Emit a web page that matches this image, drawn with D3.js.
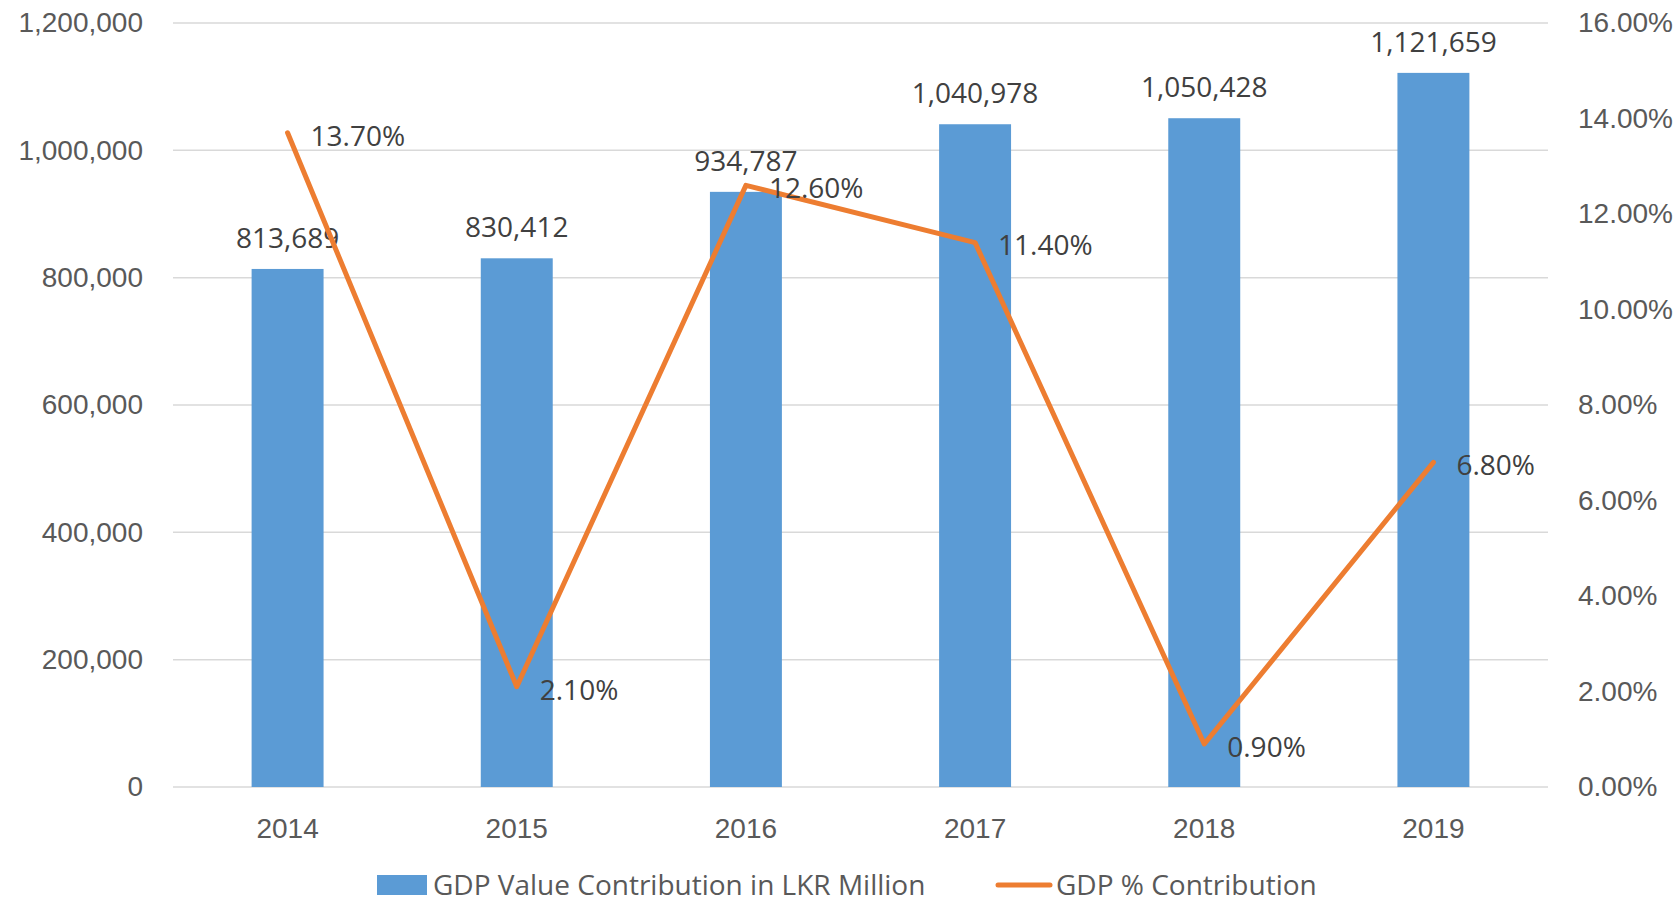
<!DOCTYPE html>
<html>
<head>
<meta charset="utf-8">
<script src="https://cdn.jsdelivr.net/npm/d3@7"></script>
<style>
  body { margin: 0; background: #fff; }
  svg { font-family: "Open Sans", "Noto Sans", sans-serif; }
</style>
</head>
<body>
<div id="chart"></div>
<script>
// Data
const years = ["2014", "2015", "2016", "2017", "2018", "2019"];
const gdpValue = [813689, 830412, 934787, 1040978, 1050428, 1121659];
const gdpPct = [13.7, 2.1, 12.6, 11.4, 0.9, 6.8];
const leftTicks = [0, 200000, 400000, 600000, 800000, 1000000, 1200000];
const rightTicks = [0, 2, 4, 6, 8, 10, 12, 14, 16];
const seriesNames = ["GDP Value Contribution in LKR Million", "GDP % Contribution"];

const width = 1680, height = 903;
const margin = { top: 23, right: 132, bottom: 116, left: 173 };
const w = width - margin.left - margin.right;
const h = height - margin.top - margin.bottom;

const svg = d3.select("#chart")
    .append("svg")
    .attr("width", width)
    .attr("height", height)
    .append("g")
    .attr("transform", "translate(" + margin.left + "," + margin.top + ")");

// Scales
const x = d3.scaleBand()
    .domain(years)
    .range([0, w])
    .paddingInner(0.686)
    .paddingOuter(0.343);

const yLeft = d3.scaleLinear().domain([0, 1200000]).range([h, 0]);
const yRight = d3.scaleLinear().domain([0, 16]).range([h, 0]);

const axisColor = "#595959";
const labelColor = "#404040";
const fmt = d3.format(",");

// Gridlines
svg.append("g")
    .selectAll("line")
    .data(leftTicks)
    .join("line")
    .attr("x1", 0)
    .attr("x2", w)
    .attr("y1", d => yLeft(d))
    .attr("y2", d => yLeft(d))
    .attr("stroke", "#d9d9d9")
    .attr("stroke-width", 1.5);

// Left axis
const leftAxis = svg.append("g")
    .attr("transform", "translate(-30,0)")
    .call(d3.axisLeft(yLeft).tickValues(leftTicks).tickFormat(fmt).tickSize(0));
leftAxis.select(".domain").remove();
leftAxis.selectAll("text")
    .attr("x", 0)
    .attr("fill", axisColor)
    .style("font-size", "28px");

// Right axis
const rightAxis = svg.append("g")
    .attr("transform", "translate(" + (w + 30) + ",0)")
    .call(d3.axisRight(yRight).tickValues(rightTicks).tickFormat(d => d.toFixed(2) + "%").tickSize(0));
rightAxis.select(".domain").remove();
rightAxis.selectAll("text")
    .attr("x", 0)
    .attr("fill", axisColor)
    .style("font-size", "28px");

// Bottom axis
const bottomAxis = svg.append("g")
    .attr("transform", "translate(0," + h + ")")
    .call(d3.axisBottom(x).tickSize(0));
bottomAxis.select(".domain").remove();
bottomAxis.selectAll("text")
    .attr("y", 41)
    .attr("dy", "0.35em")
    .attr("fill", axisColor)
    .style("font-size", "28px");

// Bars
svg.selectAll("rect.bar")
    .data(years.map((d, i) => [d, gdpValue[i]]))
    .join("rect")
    .classed("bar", true)
    .attr("x", d => x(d[0]))
    .attr("y", d => yLeft(d[1]))
    .attr("width", x.bandwidth())
    .attr("height", d => h - yLeft(d[1]))
    .attr("fill", "#5b9bd5");

// Bar labels
svg.selectAll("text.bar-label")
    .data(years.map((d, i) => [d, gdpValue[i]]))
    .join("text")
    .classed("bar-label", true)
    .attr("x", d => x(d[0]) + x.bandwidth() / 2)
    .attr("y", d => yLeft(d[1]) - 21)
    .attr("text-anchor", "middle")
    .attr("fill", labelColor)
    .style("font-size", "28px")
    .text(d => fmt(d[1]));

// Line
const pts = years.map((d, i) => [x(d) + x.bandwidth() / 2, yRight(gdpPct[i])]);
svg.append("path")
    .datum(pts)
    .attr("d", d3.line())
    .attr("fill", "none")
    .attr("stroke", "#ed7d31")
    .attr("stroke-width", 5)
    .attr("stroke-linejoin", "round")
    .attr("stroke-linecap", "round");

// Line labels
svg.selectAll("text.pct-label")
    .data(years.map((d, i) => [d, gdpPct[i]]))
    .join("text")
    .classed("pct-label", true)
    .attr("x", d => x(d[0]) + x.bandwidth() / 2 + 23)
    .attr("y", d => yRight(d[1]) + 3)
    .attr("dy", "0.35em")
    .attr("fill", labelColor)
    .style("font-size", "28px")
    .text(d => d[1].toFixed(2) + "%");

// Legend
const legend = d3.select("svg").append("g")
    .attr("transform", "translate(0,885)");
legend.append("rect")
    .attr("x", 377)
    .attr("y", -10)
    .attr("width", 50)
    .attr("height", 20)
    .attr("fill", "#5b9bd5");
legend.append("text")
    .attr("x", 433)
    .attr("y", 0)
    .attr("dy", "0.35em")
    .attr("fill", axisColor)
    .style("font-size", "28px")
    .text(seriesNames[0]);
legend.append("line")
    .attr("x1", 998)
    .attr("x2", 1050)
    .attr("y1", 0)
    .attr("y2", 0)
    .attr("stroke", "#ed7d31")
    .attr("stroke-width", 5)
    .attr("stroke-linecap", "round");
legend.append("text")
    .attr("x", 1056)
    .attr("y", 0)
    .attr("dy", "0.35em")
    .attr("fill", axisColor)
    .style("font-size", "28px")
    .text(seriesNames[1]);
</script>
</body>
</html>
